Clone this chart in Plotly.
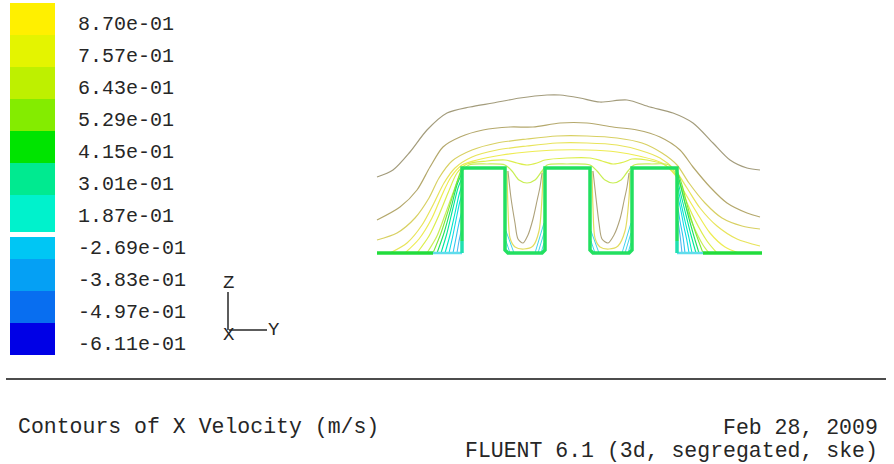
import plotly.graph_objects as go

W, H = 894, 464

# ---------------- colour-map legend (X velocity, m/s) ----------------
LEVELS = [0.870, 0.757, 0.643, 0.529, 0.415, 0.301, 0.187,
          -0.269, -0.383, -0.497, -0.611]
BAND_COLORS = ['#FFF000', '#E4F400', '#BEF000', '#84EC00', '#00E400', '#00EA90',
               '#00F2CC', '#00C6F4', '#05A0F4', '#086EF0', '#0000E6']

# ---------------- geometry / iso-lines  (Y, Z in model units) ----------------
WALL_Y = [85, 85, 128, 128, 131, 165, 168, 168, 213, 213, 216, 252, 255, 255, 300, 300]
WALL_Z = [12, 85, 85, 3, 0, 0, 3, 85, 85, 3, 0, 0, 3, 85, 85, 12]
FLOOR_L_Y = [0, 56]
FLOOR_R_Y = [326, 385]
FLOOR_Z = [0, 0]
RECIRC_L_Y = [56, 85]
RECIRC_R_Y = [300, 326]

L1_Y = [0, 16, 33, 50, 70, 93, 116, 143, 170, 183, 203, 223, 250, 273, 296, 316, 336, 353, 370, 383]
L1_Z = [76, 83, 101, 123, 140, 146, 150, 155, 158, 158, 155, 151, 153, 146, 140, 130, 110, 93, 85, 83]
L2_Y = [0, 23, 40, 53, 66, 83, 106, 133, 156, 183, 210, 236, 260, 283, 303, 316, 333, 350, 370, 383]
L2_Z = [33, 46, 63, 86, 106, 116, 123, 126, 126, 130, 130, 126, 123, 116, 103, 86, 66, 50, 40, 36]
L3_Y = [0, 20, 38, 52, 62, 75, 95, 120, 150, 180, 210, 240, 265, 285, 300, 312, 328, 345, 365, 383]
L3_Z = [13, 20, 35, 55, 75, 92, 103, 110, 114, 117, 117, 115, 110, 100, 88, 70, 50, 35, 27, 24]
L4_Y = [13, 30, 45, 57, 67, 78, 95, 120, 150, 180, 210, 240, 262, 283, 298, 310, 323, 340, 360, 383]
L4_Z = [0, 10, 28, 50, 70, 85, 96, 103, 107, 110, 110, 108, 103, 95, 83, 65, 45, 27, 14, 7]
L5_Y = [28, 42, 55, 65, 74, 85, 100, 125, 150, 180, 210, 240, 262, 285, 298, 308, 320, 333, 348, 362]
L5_Z = [0, 14, 35, 58, 76, 88, 93, 98, 101, 103, 103, 101, 97, 90, 78, 60, 40, 20, 6, 0]
L6_Y = [40, 52, 62, 71, 80, 90, 110, 128, 140, 150, 160, 168, 190, 213, 225, 236, 247, 255, 270, 288,
        300, 308, 318, 330, 340]
L6_Z = [0, 17, 38, 60, 80, 89, 92, 93, 90, 88, 90, 93, 95, 95, 92, 89, 91, 94, 93, 88,
        76, 55, 33, 12, 0]
L7_Y = [50, 60, 68, 76, 84, 92, 110, 128, 135, 142, 150, 158, 165, 170, 190, 213, 220, 228, 236, 244,
        251, 257, 275, 292, 302, 308, 316, 326, 332]
L7_Z = [0, 17, 38, 60, 80, 88, 89, 88, 82, 73, 70, 73, 82, 88, 89, 88, 82, 73, 70, 73,
        82, 88, 89, 88, 72, 50, 28, 8, 0]

# lines dipping into the two cavities
V1_Y = [131, 134, 138, 141, 146, 151, 156, 160, 163, 165]
V2_Y = [216, 219, 222, 225, 231, 237, 243, 247, 250, 252]
V_Z = [82, 55, 30, 14, 10, 18, 34, 52, 66, 80]
U1_Y = [130, 131, 133, 138, 147, 156, 162, 165, 166]
U2_Y = [215, 216, 218, 223, 232, 241, 248, 252, 253]
U_Z = [82, 45, 15, 6, 4, 7, 22, 55, 82]

# near-wall fans (left of first block, right of last block)
FAN_L_Y = [[56, 64, 72, 79, 84], [60, 67, 74, 80, 85], [64, 70, 76, 81, 85],
           [68, 73, 78, 82, 85], [72, 76, 80, 83, 85], [76, 79, 82, 85], [80, 82, 85]]
FAN_L_Z = [[0, 20, 45, 68, 83], [0, 20, 45, 68, 80], [0, 20, 45, 65, 75],
           [0, 18, 40, 58, 68], [0, 18, 38, 52, 58], [0, 15, 30, 42], [0, 12, 25]]
FAN_R_Y = [[326, 318, 311, 305, 300], [322, 316, 310, 305, 301], [319, 314, 309, 304, 301],
           [315, 312, 308, 304, 301], [312, 310, 307, 304, 301], [308, 306, 303, 301], [305, 303, 301]]
FAN_R_Z = [[0, 22, 45, 68, 83], [0, 20, 42, 62, 78], [0, 18, 38, 58, 72],
           [0, 15, 32, 50, 65], [0, 12, 26, 42, 56], [0, 16, 32, 45], [0, 18, 32]]

# cavity corner lines
CORNER_Y = [[158, 167], [161, 167], [164, 167], [137, 129], [133, 129],
            [245, 254], [248, 254], [251, 254], [222, 214], [218, 214]]
CORNER_Z = [[0, 30], [0, 20], [0, 10], [0, 22], [0, 12],
            [0, 30], [0, 20], [0, 10], [0, 22], [0, 12]]

TITLE = "Contours of X Velocity (m/s)"
DATE = "Feb 28, 2009"
SOLVER = "FLUENT 6.1 (3d, segregated, ske)"

# ---------------------------------------------------------------------
FONT = "Liberation Mono, DejaVu Sans Mono, monospace"
TXT = "#262626"


def px(x):
    return x / W


def py(y):
    return 1 - y / H


fig = go.Figure()


def line(yv, zv, color, width, shape="spline"):
    fig.add_trace(go.Scatter(x=yv, y=zv, mode="lines", xaxis="x", yaxis="y",
                             line=dict(color=color, width=width, shape=shape, smoothing=0.8),
                             hoverinfo="skip", showlegend=False))


# arch iso-lines
arch = [(L1_Y, L1_Z, "#A39C7C"), (L2_Y, L2_Z, "#B4A86C"), (L3_Y, L3_Z, "#D8D062"),
        (L4_Y, L4_Z, "#E8E45A"), (L5_Y, L5_Z, "#EEEC52"), (L6_Y, L6_Z, "#DCEE4C"),
        (L7_Y, L7_Z, "#C8EE54")]
for yv, zv, c in arch:
    line(yv, zv, c, 1.2)

# cavity lines
line(U1_Y, U_Z, "#E2DC60", 1.2)
line(U2_Y, U_Z, "#E2DC60", 1.2)
line(V1_Y, V_Z, "#AEA27A", 1.1)
line(V2_Y, V_Z, "#AEA27A", 1.1)

# fans
fan_cols = ["#7CE83C", "#20E060", "#00E69C", "#00E6C8", "#10D8E8", "#30C4F0", "#50B4F0"]
for yv, zv, c in zip(FAN_L_Y, FAN_L_Z, fan_cols):
    line(yv, zv, c, 1.1)
for yv, zv, c in zip(FAN_R_Y, FAN_R_Z, fan_cols):
    line(yv, zv, c, 1.1)
for yv, zv in zip(CORNER_Y, CORNER_Z):
    line(yv, zv, "#40D4EC", 1.0, "linear")

# floor + walls
line(RECIRC_L_Y, FLOOR_Z, "#60DCEC", 2.5, "linear")
line(RECIRC_R_Y, FLOOR_Z, "#60DCEC", 2.5, "linear")
line(FLOOR_L_Y, FLOOR_Z, "#22DC3C", 3.5, "linear")
line(FLOOR_R_Y, FLOOR_Z, "#22DC3C", 3.5, "linear")
line([WALL_Y[0], WALL_Y[0]], [0, WALL_Z[0]], "#20E0B0", 3.5, "linear")
line([WALL_Y[-1], WALL_Y[-1]], [0, WALL_Z[-1]], "#20E0B0", 3.5, "linear")
line(WALL_Y, WALL_Z, "#22E060", 3.5, "linear")

# ---------------- colour bar (stacked bands) ----------------
n = len(LEVELS)
bases, heights = [], []
for i in range(n):
    b, t = float(i), float(i + 1)
    if i == 6:
        t = 7.16
    if i == 7:
        b = 7.31
    bases.append(b)
    heights.append(t - b)
fig.add_trace(go.Bar(x=[0] * n, y=heights, base=bases, width=1, xaxis="x2", yaxis="y2",
                     marker=dict(color=BAND_COLORS, line=dict(width=0)),
                     hoverinfo="skip", showlegend=False))

annotations = []
for i, v in enumerate(LEVELS):
    annotations.append(dict(x=px(76), xref="paper", y=i + 0.66, yref="y2",
                            text=f"{v:.2e}", showarrow=False, xanchor="left", yanchor="middle",
                            font=dict(family=FONT, size=20, color=TXT)))

# axis triad labels
for t, x, y in [("Z", 228, 283), ("X", 229, 335), ("Y", 274, 330)]:
    annotations.append(dict(x=px(x), y=py(y), xref="paper", yref="paper", text=t,
                            showarrow=False, xanchor="center", yanchor="middle",
                            font=dict(family=FONT, size=19, color=TXT)))

annotations += [
    dict(x=px(16), y=py(427), xref="paper", yref="paper", text=TITLE, showarrow=False,
         xanchor="left", yanchor="middle", font=dict(family=FONT, size=21.5, color=TXT)),
    dict(x=px(880), y=py(428), xref="paper", yref="paper", text=DATE, showarrow=False,
         xanchor="right", yanchor="middle", font=dict(family=FONT, size=21.5, color=TXT)),
    dict(x=px(880), y=py(451), xref="paper", yref="paper", text=SOLVER, showarrow=False,
         xanchor="right", yanchor="middle", font=dict(family=FONT, size=21.5, color=TXT)),
]

shapes = [
    dict(type="line", xref="paper", yref="paper", x0=px(6), x1=px(886), y0=py(379), y1=py(379),
         line=dict(color="#111111", width=1.5)),
    dict(type="line", xref="paper", yref="paper", x0=px(228), x1=px(228), y0=py(292), y1=py(330),
         line=dict(color=TXT, width=1.5)),
    dict(type="line", xref="paper", yref="paper", x0=px(229), x1=px(267), y0=py(330), y1=py(330),
         line=dict(color=TXT, width=1.5)),
]

fig.update_layout(
    width=W, height=H, margin=dict(l=0, r=0, t=0, b=0),
    paper_bgcolor="white", plot_bgcolor="rgba(0,0,0,0)",
    barmode="overlay", showlegend=False,
    xaxis=dict(domain=[px(370), px(770)], range=[-7, 393], visible=False),
    yaxis=dict(domain=[py(265), py(90)], range=[-12, 163], visible=False),
    xaxis2=dict(domain=[px(10), px(55)], range=[-0.5, 0.5], visible=False, anchor="y2"),
    yaxis2=dict(domain=[py(355), py(3)], range=[11, 0], visible=False, anchor="x2"),
    annotations=annotations, shapes=shapes,
)

fig.write_html("out.html", config={"displayModeBar": False, "staticPlot": True},
               post_script="document.body.style.margin='0';document.body.style.overflow='hidden';")
